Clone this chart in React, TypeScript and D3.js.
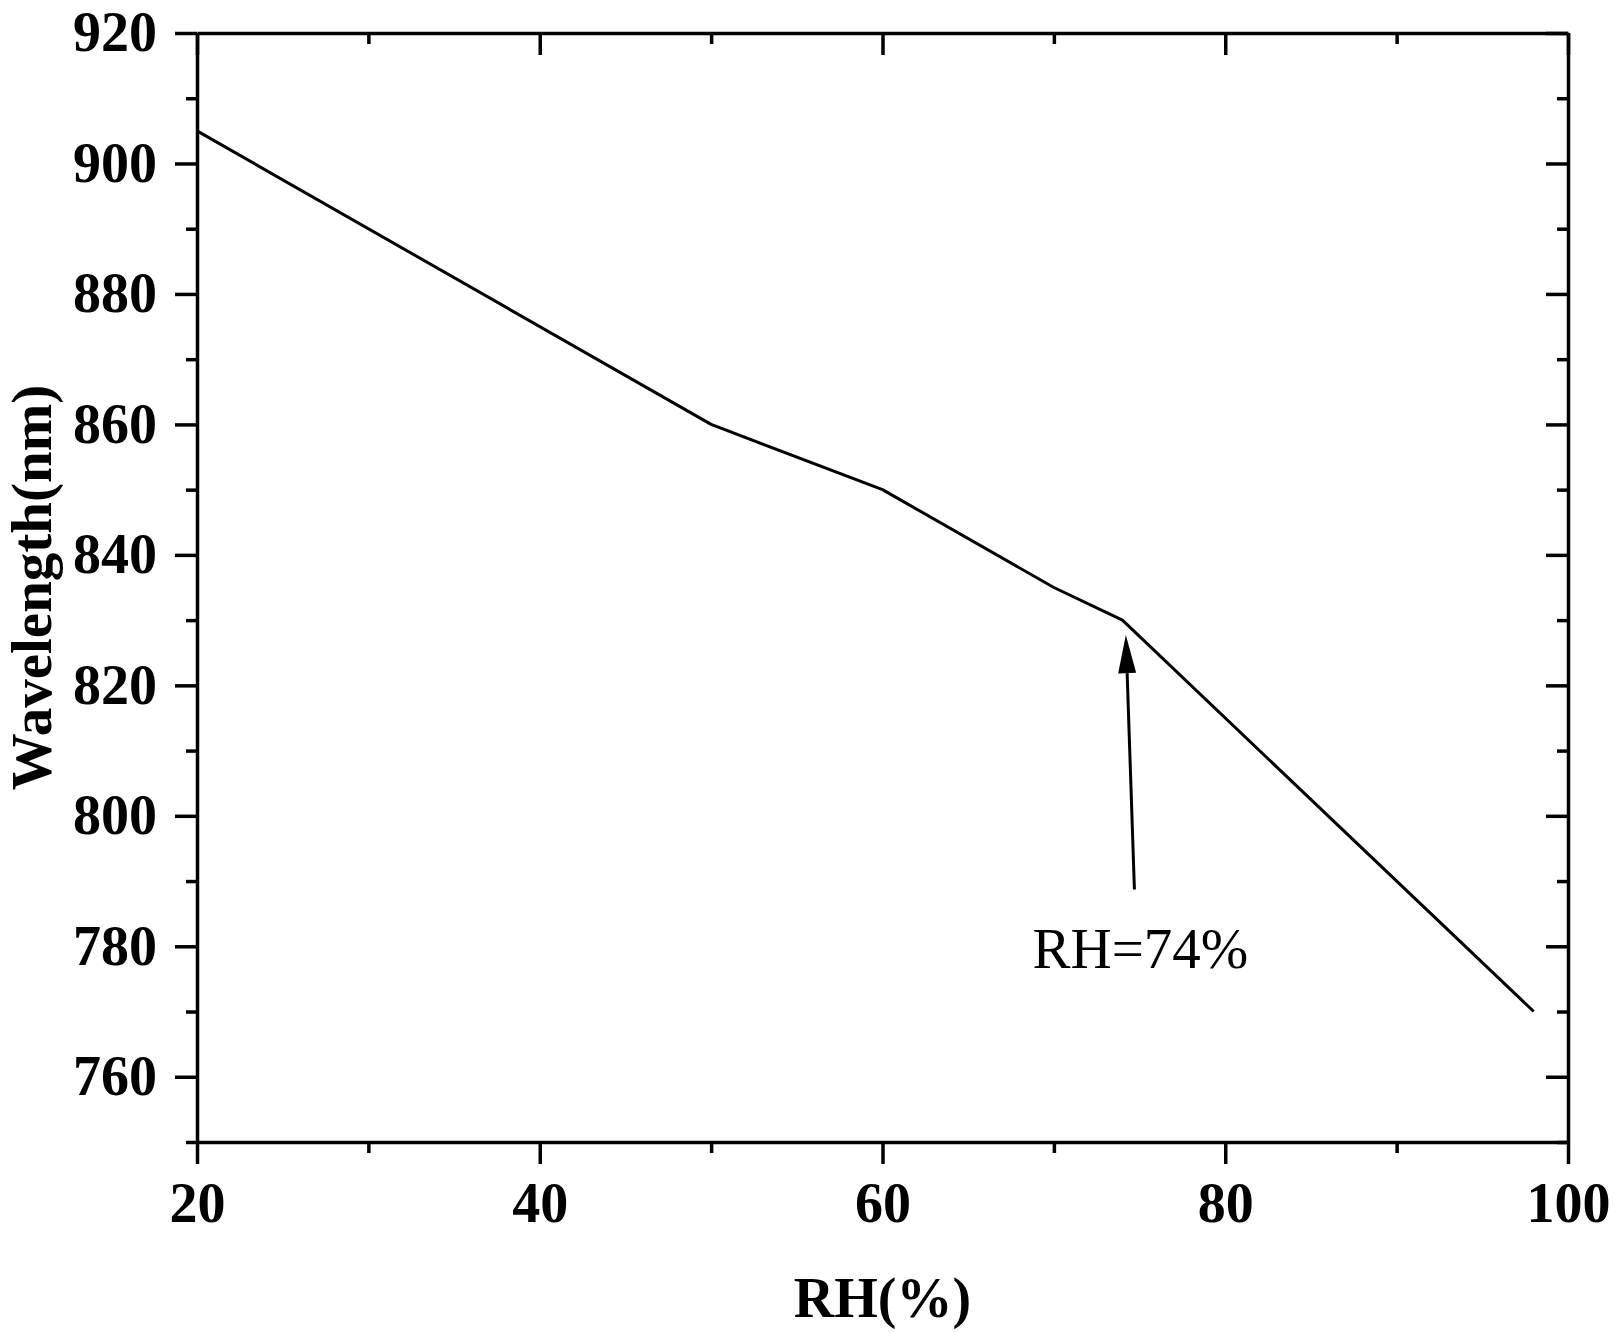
import React, { useRef, useEffect } from 'react'
import * as d3 from 'd3'

// humidity (%) and resonance wavelength (nm)
const rh = [20, 50, 60, 70, 74, 98]
const wavelength = [905, 860, 850, 835, 830, 770]

const xMajor = [20, 40, 60, 80, 100]
const xMinor = [30, 50, 70, 90]
const yMajor = [760, 780, 800, 820, 840, 860, 880, 900, 920]
const yMinor = [750, 770, 790, 810, 830, 850, 870, 890, 910]

// arrow annotation, in data units
const arrowTail: [number, number] = [74.7, 788.7]
const arrowTip: [number, number] = [74.2, 827.7]
const noteText = 'RH=74%'

const width = 1618
const height = 1333
const margin = { top: 33, right: 50, bottom: 191, left: 197 }

const App: React.FC = () => {
  const svgRef = useRef<SVGSVGElement | null>(null)

  useEffect(() => {
    if (!svgRef.current) return
    const svg = d3.select(svgRef.current)
    svg.selectAll('*').remove()

    const iw = width - margin.left - margin.right
    const ih = height - margin.top - margin.bottom

    const x = d3.scaleLinear().domain([20, 100]).range([0, iw])
    const y = d3.scaleLinear().domain([750, 920]).range([ih, 0])

    const chart = svg.append('g')
      .attr('transform', `translate(${margin.left},${margin.top})`)

    const font = '"Liberation Serif", "Times New Roman", serif'
    const style = (g: d3.Selection<SVGGElement, unknown, null, undefined>, labels: boolean) => {
      g.selectAll('path').attr('stroke', '#000').attr('stroke-width', 3.5)
      g.selectAll('line').attr('stroke', '#000').attr('stroke-width', 3.5)
      g.selectAll('text')
        .attr('fill', '#000')
        .style('font-family', font)
        .style('font-weight', 'bold')
        .style('font-size', '56px')
      if (!labels) g.selectAll('text').remove()
    }

    // left
    chart.append('g')
      .call(d3.axisLeft(y).tickValues(yMajor).tickSize(22).tickSizeOuter(0).tickPadding(18))
      .call(g => style(g, true))
    chart.append('g')
      .call(d3.axisLeft(y).tickValues(yMinor).tickSize(11).tickSizeOuter(0))
      .call(g => { g.select('.domain').remove(); style(g, false) })
    // right (inward)
    chart.append('g')
      .attr('transform', `translate(${iw},0)`)
      .call(d3.axisRight(y).tickValues(yMajor).tickSize(-22).tickSizeOuter(0))
      .call(g => style(g, false))
    chart.append('g')
      .attr('transform', `translate(${iw},0)`)
      .call(d3.axisRight(y).tickValues(yMinor).tickSize(-11).tickSizeOuter(0))
      .call(g => { g.select('.domain').remove(); style(g, false) })
    // bottom
    chart.append('g')
      .attr('transform', `translate(0,${ih})`)
      .call(d3.axisBottom(x).tickValues(xMajor).tickSize(22).tickSizeOuter(0).tickPadding(18))
      .call(g => style(g, true))
    chart.append('g')
      .attr('transform', `translate(0,${ih})`)
      .call(d3.axisBottom(x).tickValues(xMinor).tickSize(11).tickSizeOuter(0))
      .call(g => { g.select('.domain').remove(); style(g, false) })
    // top (inward)
    chart.append('g')
      .call(d3.axisTop(x).tickValues(xMajor).tickSize(-22).tickSizeOuter(0))
      .call(g => style(g, false))
    chart.append('g')
      .call(d3.axisTop(x).tickValues(xMinor).tickSize(-11).tickSizeOuter(0))
      .call(g => { g.select('.domain').remove(); style(g, false) })

    // data line
    const points = rh.map((v, i) => [v, wavelength[i]] as [number, number])
    chart.append('path')
      .datum(points)
      .attr('fill', 'none')
      .attr('stroke', '#000')
      .attr('stroke-width', 3)
      .attr('stroke-linejoin', 'round')
      .attr('d', d3.line<[number, number]>().x(d => x(d[0])).y(d => y(d[1]))!)

    // arrow
    const tx = x(arrowTail[0]), ty = y(arrowTail[1])
    const hx = x(arrowTip[0]), hy = y(arrowTip[1])
    const ang = Math.atan2(hy - ty, hx - tx)
    const headLen = 38, headHalf = 9
    const bx = hx - headLen * Math.cos(ang), by = hy - headLen * Math.sin(ang)
    chart.append('line')
      .attr('x1', tx).attr('y1', ty).attr('x2', bx).attr('y2', by)
      .attr('stroke', '#000').attr('stroke-width', 3)
    chart.append('polygon')
      .attr('points', [
        [hx, hy],
        [bx + headHalf * Math.sin(ang), by - headHalf * Math.cos(ang)],
        [bx - headHalf * Math.sin(ang), by + headHalf * Math.cos(ang)],
      ].map(p => p.join(',')).join(' '))
      .attr('fill', '#000')

    chart.append('text')
      .attr('x', tx + 6)
      .attr('y', ty + 78)
      .attr('text-anchor', 'middle')
      .style('font-family', font)
      .style('font-size', '57px')
      .text(noteText)

    // axis titles
    chart.append('text')
      .attr('x', iw / 2)
      .attr('y', ih + 175)
      .attr('text-anchor', 'middle')
      .style('font-family', font)
      .style('font-weight', 'bold')
      .style('font-size', '56px')
      .text('RH(%)')

    chart.append('text')
      .attr('transform', 'rotate(-90)')
      .attr('x', -ih / 2)
      .attr('y', -margin.left + 51)
      .attr('text-anchor', 'middle')
      .style('font-family', font)
      .style('font-weight', 'bold')
      .style('font-size', '57px')
      .text('Wavelength(nm)')
  }, [])

  return (
    <svg
      ref={svgRef}
      width={width}
      height={height}
      style={{ position: 'absolute', left: 0, top: 0, background: '#fff' }}
    />
  )
}

export default App
